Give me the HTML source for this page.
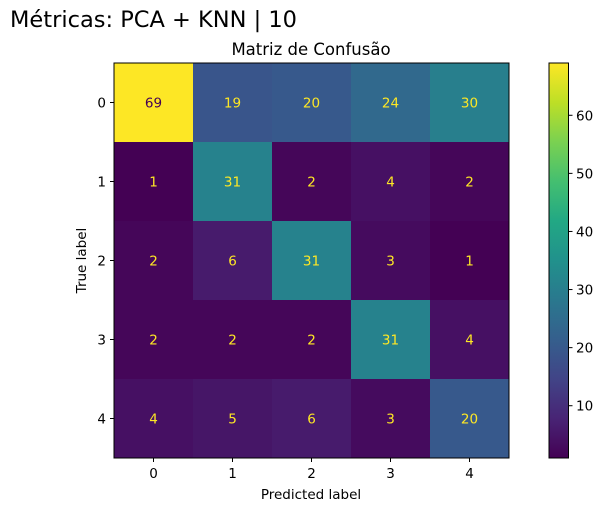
<!DOCTYPE html>
<html><head><meta charset="utf-8">
<style>
body{margin:0;background:#fff;}
svg{display:block;font-family:"DejaVu Sans","Liberation Sans",sans-serif;}
</style></head>
<body>
<svg id="chart" width="605" height="511" viewBox="0 0 605 511">
<defs>
<linearGradient id="vir" x1="0" y1="1" x2="0" y2="0">
<stop offset="0" stop-color="#440154"/><stop offset="0.1" stop-color="#482475"/>
<stop offset="0.2" stop-color="#414487"/><stop offset="0.3" stop-color="#355f8d"/>
<stop offset="0.4" stop-color="#2a788e"/><stop offset="0.5" stop-color="#21918c"/>
<stop offset="0.6" stop-color="#22a884"/><stop offset="0.7" stop-color="#44bf70"/>
<stop offset="0.8" stop-color="#7ad151"/><stop offset="0.9" stop-color="#bddf26"/>
<stop offset="1" stop-color="#fde725"/>
</linearGradient>
</defs>
<text x="10" y="27" font-size="22.5" fill="#000">Métricas: PCA + KNN | 10</text>
<text x="311" y="55" font-size="16.5" text-anchor="middle" fill="#000">Matriz de Confusão</text>
<g id="cells"></g>
<rect x="114" y="63" width="395" height="395" fill="none" stroke="#000" stroke-width="1"/>
<g id="ticks" font-size="13.5" fill="#000"></g>
<text x="311" y="499" font-size="13.5" text-anchor="middle">Predicted label</text>
<text transform="translate(86,260.5) rotate(-90)" font-size="13.5" text-anchor="middle">True label</text>
<rect x="549" y="63" width="19.5" height="395" fill="url(#vir)" stroke="#000" stroke-width="1"/>
<g id="cbticks" font-size="13.5"></g>
</svg>
<script>
const labels = ["0","1","2","3","4"];
const matrix = [
 [69,19,20,24,30],
 [1,31,2,4,2],
 [2,6,31,3,1],
 [2,2,2,31,4],
 [4,5,6,3,20]
];
const cbTicks = [10,20,30,40,50,60];
const NS="http://www.w3.org/2000/svg";
const X0=114,Y0=63,S=395,n=labels.length,cw=S/n;
const flat=matrix.flat();const vmin=Math.min(...flat),vmax=Math.max(...flat);
const stops=["#440154","#482475","#414487","#355f8d","#2a788e","#21918c","#22a884","#44bf70","#7ad151","#bddf26","#fde725"].map(h=>[1,3,5].map(i=>parseInt(h.substr(i,2),16)));
function viridis(t){t=Math.max(0,Math.min(1,t));const p=t*10,i=Math.min(9,Math.floor(p)),f=p-i;const c=stops[i].map((v,k)=>Math.round(v+(stops[i+1][k]-v)*f));return `rgb(${c.join(",")})`;}
function xs(j){return X0+j*cw;} function ys(i){return Y0+i*cw;}
function cy(v){return Y0+S-(v-vmin)/(vmax-vmin)*S;}
const cells=document.getElementById('cells');
matrix.forEach((row,i)=>row.forEach((v,j)=>{
 const r=document.createElementNS(NS,'rect');
 r.setAttribute('x',xs(j));r.setAttribute('y',ys(i));r.setAttribute('width',cw+0.5);r.setAttribute('height',cw+0.5);
 r.setAttribute('fill',viridis((v-vmin)/(vmax-vmin)));
 
 
 cells.appendChild(r);
 const t=document.createElementNS(NS,'text');
 t.setAttribute('x',xs(j)+cw/2);t.setAttribute('y',ys(i)+cw/2+5);t.setAttribute('text-anchor','middle');t.setAttribute('font-size','13.5');
 t.setAttribute('fill',v<(vmin+vmax)/2?'#fde725':'#440154');
 t.textContent=v;
 
 
 cells.appendChild(t);
}));
const tk=document.getElementById('ticks');
labels.forEach((l,k)=>{
 const c=X0+k*cw+cw/2;
 const a=document.createElementNS(NS,'line');a.setAttribute('x1',c);a.setAttribute('x2',c);a.setAttribute('y1',Y0+S);a.setAttribute('y2',Y0+S+4);a.setAttribute('stroke','#000');
 
 
 tk.appendChild(a);
 const t=document.createElementNS(NS,'text');t.setAttribute('x',c);t.setAttribute('y',Y0+S+20);t.setAttribute('text-anchor','middle');t.textContent=l;
 
 
 tk.appendChild(t);
 const r=Y0+k*cw+cw/2;
 const b=document.createElementNS(NS,'line');b.setAttribute('x1',X0-4);b.setAttribute('x2',X0);b.setAttribute('y1',r);b.setAttribute('y2',r);b.setAttribute('stroke','#000');
 
 
 tk.appendChild(b);
 const u=document.createElementNS(NS,'text');u.setAttribute('x',X0-8);u.setAttribute('y',r+5);u.setAttribute('text-anchor','end');u.textContent=l;
 
 
 tk.appendChild(u);
});
const cb=document.getElementById('cbticks');
cbTicks.forEach(v=>{
 const y=cy(v);
 const a=document.createElementNS(NS,'line');a.setAttribute('x1',568.5);a.setAttribute('x2',572.5);a.setAttribute('y1',y);a.setAttribute('y2',y);a.setAttribute('stroke','#000');
 
 
 cb.appendChild(a);
 const t=document.createElementNS(NS,'text');t.setAttribute('x',576);t.setAttribute('y',y+5);t.textContent=v;
 
 
 cb.appendChild(t);
});
</script>
</body></html>
